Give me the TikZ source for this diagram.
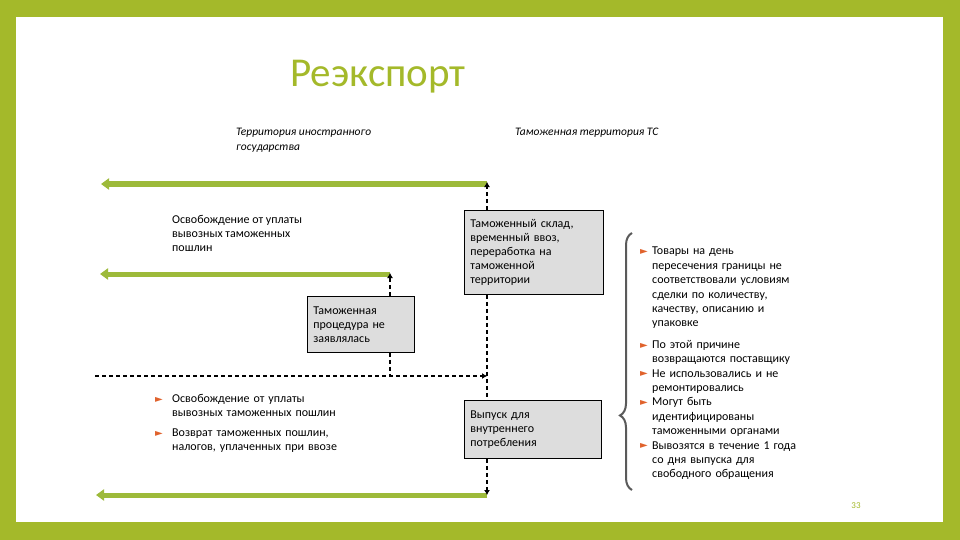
\documentclass[tikz,border=0pt]{standalone}
\usepackage{fontspec}
\setmainfont{Carlito}
\newfontfamily\symfont{DejaVu Sans}
\usetikzlibrary{positioning, calc, arrows.meta, decorations.pathreplacing}

\definecolor{framegreen}{HTML}{A4B92A}
\definecolor{flowgreen}{HTML}{9DBA3A}
\definecolor{boxgray}{HTML}{DDDDDD}
\definecolor{bracegray}{HTML}{5A5A5A}
\definecolor{bulletred}{HTML}{E0622C}

% bullet item with hanging indent #1
\newcommand{\bulitem}[1]{\hangindent=#1\hangafter=1\noindent\makebox[#1][l]{\raisebox{0.3pt}{\color{bulletred}\symfont\fontsize{10}{10}\selectfont ►}}}

\tikzset{
    flow/.style={line width=5pt, flowgreen, -{Triangle[length=8pt,width=11pt]}},
    link/.style={line width=1.6pt, dash pattern=on 4pt off 3pt, -{Latex[length=5pt,width=6pt]}},
    linkplain/.style={line width=1.6pt, dash pattern=on 4pt off 3pt},
    procbox/.style={draw, fill=boxgray, line width=0.8pt, anchor=north west, align=left,
        inner xsep=6pt, inner ysep=4pt, font=\fontsize{12}{14}\selectfont},
    note/.style={anchor=north west, align=left, inner sep=0pt, font=\fontsize{12}{14}\selectfont},
    zone/.style={anchor=north west, align=left, inner sep=0pt, font=\itshape\fontsize{11.5}{15}\selectfont},
}

\begin{document}
\begin{tikzpicture}[x=1pt, y=-1pt]

    % Slide frame
    \fill[framegreen] (0,0) rectangle (960,540);
    \fill[white] (16,17) rectangle (943,522);
    \useasboundingbox (0,0) rectangle (960,540);

    % Title
    \node[anchor=base west, inner sep=0pt, text=framegreen, font=\fontsize{41}{46}\selectfont] (title) at (290,87) {Реэкспорт};

    % Territory labels
    \node[zone] (lblforeign) at (236,128) {Территория иностранного\\государства};
    \node[zone] (lblcustoms) at (515,128) {Таможенная территория ТС};

    % Boxes of the procedures
    \node[procbox, minimum width=139pt, minimum height=84pt, text width=127pt] (warehouse) at (464,210)
        {Таможенный склад,\\временный ввоз,\\переработка на\\таможенной\\территории};
    \node[procbox, minimum width=107pt, minimum height=56pt, text width=95pt] (noproc) at (307,296)
        {Таможенная\\процедура не\\заявлялась};
    \node[procbox, minimum width=137pt, minimum height=58pt, text width=125pt] (release) at (464,400)
        {Выпуск для\\внутреннего\\потребления\\[4pt]};

    % End points of the arrows
    \coordinate (gate) at (487,184);
    \coordinate (foreignA) at (101,184);
    \coordinate (hold) at (390,274);
    \coordinate (foreignB) at (100,274);
    \coordinate (drop) at (390,376);
    \coordinate (joinL) at (95,376);
    \coordinate (join) at (487,376);
    \coordinate (exitpt) at (487,495);
    \coordinate (foreignC) at (96,495);

    % Green arrows to the foreign territory
    \draw[flow] (gate) -- (foreignA);
    \draw[flow] (hold) -- (foreignB);
    \draw[flow] (exitpt) -- (foreignC);

    % Dashed connectors on the border line
    \draw[link] (warehouse.north -| gate) -- ([yshift=2pt]gate);
    \draw[linkplain] (warehouse.south -| gate) -- (release.north -| gate);
    \draw[link] (release.south -| gate) -- (exitpt);
    \draw[link] (noproc.north -| hold) -- ([yshift=1pt]hold);
    \draw[linkplain] (noproc.south -| hold) -- (drop);
    \draw[link] (joinL) -- (join);

    % Texts on the left
    \node[note] (freeText) at (172,215) {Освобождение от уплаты\\вывозных таможенных\\пошлин};
    \node[note, text width=200pt] (leftList) at (155,394)
        {\bulitem{17pt}Освобождение от уплаты\newline вывозных таможенных пошлин\par\vspace{6pt}
         \bulitem{17pt}Возврат таможенных пошлин,\newline налогов, уплаченных при ввозе\par};

    % Brace and the list of conditions
    \coordinate (braceB) at (632,490);
    \coordinate (braceT) at (632,233);
    \draw[bracegray, line width=2pt, decorate, decoration={brace, amplitude=12pt, aspect=0.29}] (braceB) -- (braceT);
    \node[note, text width=170pt, font=\fontsize{12}{14.4}\selectfont] (rightList) at (640,247)
        {\bulitem{12pt}Товары на день\newline пересечения границы не\newline соответствовали условиям\newline сделки по количеству,\newline качеству, описанию и\newline упаковке\par\vspace{7pt}
         \bulitem{12pt}По этой причине\newline возвращаются поставщику\par
         \bulitem{12pt}Не использовались и не\newline ремонтировались\par
         \bulitem{12pt}Могут быть\newline идентифицированы\newline таможенными органами\par
         \bulitem{12pt}Вывозятся в течение 1 года\newline со дня выпуска для\newline свободного обращения\par};

    % Page number
    \node[text=framegreen, font=\fontsize{9}{10}\selectfont, inner sep=0pt] (pagenum) at (856,506) {33};

\end{tikzpicture}
\end{document}
